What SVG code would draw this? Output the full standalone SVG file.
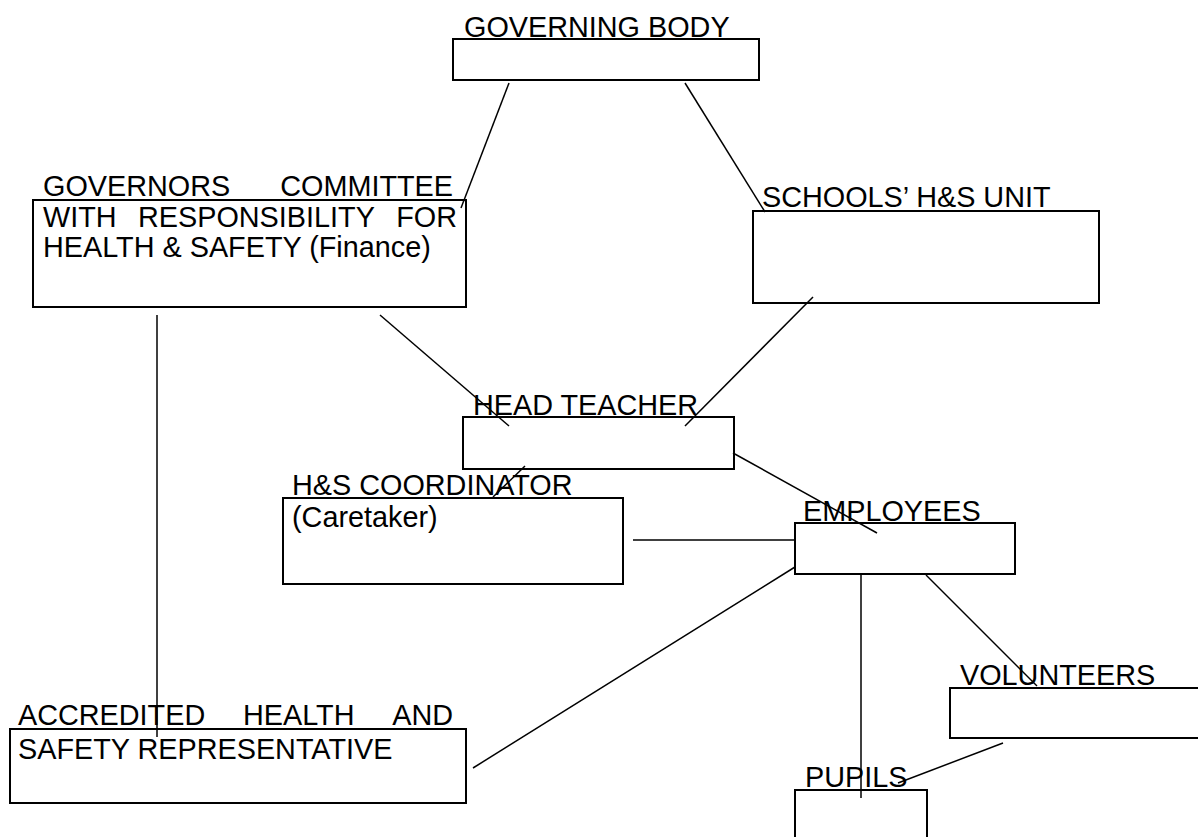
<svg xmlns="http://www.w3.org/2000/svg" width="1198" height="837" viewBox="0 0 1198 837">
<style>
.box{fill:#fff;stroke:#000;stroke-width:2}
.t{font-family:"Liberation Sans",Arial,sans-serif;font-size:28.8px;fill:#000}
.e{text-anchor:end}
#connectors line{stroke:#000;stroke-width:1.5}
</style>
<rect width="1198" height="837" fill="#fff"/>
<g id="governing-body">
<rect class="box" x="453" y="39" width="306" height="41"/>
<text class="t" x="464" y="37">GOVERNING BODY</text>
</g>
<g id="governors-committee">
<rect class="box" x="33" y="200" width="433" height="107"/>
<text class="t" x="43" y="196">GOVERNORS</text>
<text class="t e" x="453" y="196">COMMITTEE</text>
<text class="t" x="43" y="227">WITH</text>
<text class="t" x="138" y="227">RESPONSIBILITY</text>
<text class="t e" x="457" y="227">FOR</text>
<text class="t" x="43" y="257">HEALTH &amp; SAFETY (Finance)</text>
</g>
<g id="schools-hs-unit">
<rect class="box" x="753" y="211" width="346" height="92"/>
<text class="t" x="762" y="207">SCHOOLS’ H&amp;S UNIT</text>
</g>
<g id="head-teacher">
<rect class="box" x="463" y="417" width="271" height="52"/>
<text class="t" x="473" y="415">HEAD TEACHER</text>
</g>
<g id="hs-coordinator">
<rect class="box" x="283" y="498" width="340" height="86"/>
<text class="t" x="292" y="495">H&amp;S COORDINATOR</text>
<text class="t" x="292" y="527">(Caretaker)</text>
</g>
<g id="employees">
<rect class="box" x="795" y="523" width="220" height="51"/>
<text class="t" x="803" y="521">EMPLOYEES</text>
</g>
<g id="volunteers">
<rect class="box" x="950" y="688" width="260" height="50"/>
<text class="t" x="960" y="685">VOLUNTEERS</text>
</g>
<g id="pupils">
<rect class="box" x="795" y="790" width="132" height="60"/>
<text class="t" x="805" y="787">PUPILS</text>
</g>
<g id="accredited-rep">
<rect class="box" x="10" y="729" width="456" height="74"/>
<text class="t" x="18" y="725">ACCREDITED</text>
<text class="t" x="243" y="725">HEALTH</text>
<text class="t e" x="453" y="725">AND</text>
<text class="t" x="18" y="759">SAFETY REPRESENTATIVE</text>
</g>
<g id="connectors">
<line x1="509" y1="83" x2="461" y2="208"/>
<line x1="685" y1="83" x2="765" y2="212"/>
<line x1="380" y1="315" x2="509" y2="426"/>
<line x1="813" y1="297" x2="685" y2="426"/>
<line x1="525" y1="466" x2="493" y2="497"/>
<line x1="733" y1="453" x2="877" y2="533"/>
<line x1="633" y1="540" x2="795" y2="540"/>
<line x1="795" y1="567" x2="473" y2="768"/>
<line x1="157" y1="315" x2="157" y2="737"/>
<line x1="861" y1="574" x2="861" y2="798"/>
<line x1="926" y1="575" x2="1037" y2="686"/>
<line x1="1003" y1="743" x2="898" y2="783"/>
</g>
</svg>
